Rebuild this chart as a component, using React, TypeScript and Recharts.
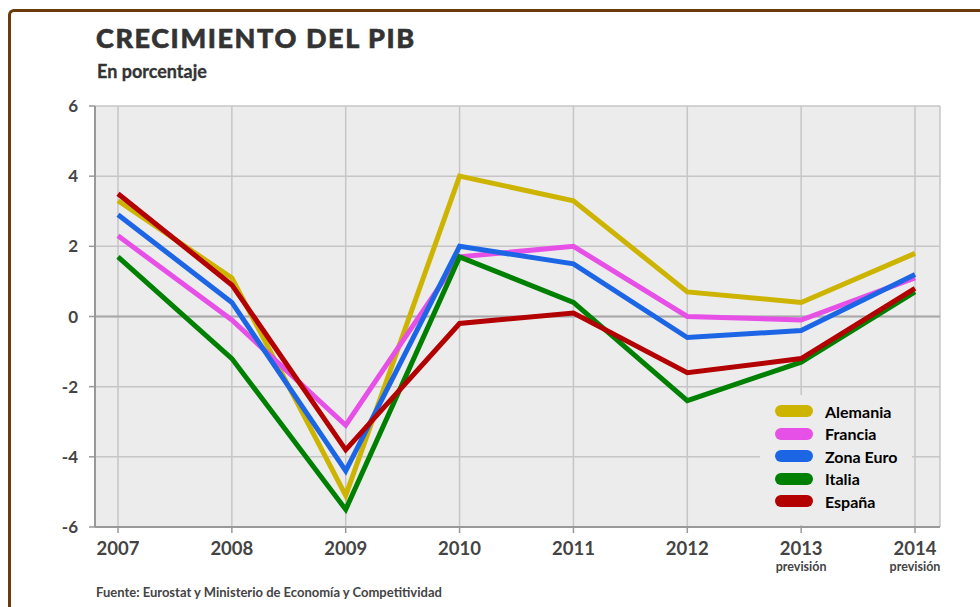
import React from 'react';
import { LineChart, Line, XAxis, YAxis, CartesianGrid, Legend, ReferenceLine } from 'recharts';

const years = ['2007', '2008', '2009', '2010', '2011', '2012', '2013', '2014'];
const alemania = [3.3, 1.1, -5.1, 4.0, 3.3, 0.7, 0.4, 1.8];
const francia = [2.3, -0.1, -3.1, 1.7, 2.0, 0.0, -0.1, 1.1];
const zonaEuro = [2.9, 0.4, -4.4, 2.0, 1.5, -0.6, -0.4, 1.2];
const italia = [1.7, -1.2, -5.5, 1.7, 0.4, -2.4, -1.3, 0.7];
const espana = [3.5, 0.9, -3.8, -0.2, 0.1, -1.6, -1.2, 0.8];
const yTicks = [-6, -4, -2, 0, 2, 4, 6];
const forecastYears = ['2013', '2014'];

const series = [
  { key: 'alemania', name: 'Alemania', values: alemania, color: '#cdb400' },
  { key: 'francia', name: 'Francia', values: francia, color: '#e650e6' },
  { key: 'zonaEuro', name: 'Zona Euro', values: zonaEuro, color: '#1c66e6' },
  { key: 'italia', name: 'Italia', values: italia, color: '#008000' },
  { key: 'espana', name: 'España', values: espana, color: '#b30000' },
];
const seriesOrder = series.map((s) => s.name);

const data = years.map((year, i) => {
  const row: Record<string, string | number> = { year };
  series.forEach((s) => {
    row[s.key] = s.values[i];
  });
  return row;
});

const FONT = 'Lato, "Open Sans", sans-serif';

const XTick = (props: any) => {
  const { x, y, payload } = props;
  const forecast = forecastYears.includes(String(payload.value));
  return (
    <g>
      <text x={x} y={y} dy={20} textAnchor="middle" fontFamily={FONT} fontWeight={700} fontSize={18.5} fill="#444">
        {payload.value}
      </text>
      {forecast && (
        <text x={x} y={y} dy={36} textAnchor="middle" fontFamily={FONT} fontWeight={700} fontSize={12.5} fill="#444">
          previsión
        </text>
      )}
    </g>
  );
};

const LegendContent = (props: any) => {
  const items = [...(props.payload || [])].sort(
    (a: any, b: any) => seriesOrder.indexOf(a.value) - seriesOrder.indexOf(b.value)
  );
  return (
    <div style={{ background: '#ececec', width: 152, height: 130, paddingTop: 5, boxSizing: 'border-box', fontFamily: FONT }}>
      {items.map((p: any) => (
        <div key={p.value} style={{ display: 'flex', alignItems: 'center', height: 22.5 }}>
          <div style={{ width: 38, height: 12, borderRadius: 6, background: p.color, marginLeft: 15, marginRight: 12 }} />
          <span style={{ fontSize: 16, fontWeight: 700, color: '#000' }}>{p.value}</span>
        </div>
      ))}
    </div>
  );
};

export default function App() {
  return (
    <div style={{ position: 'absolute', left: 0, top: 0, width: 980, height: 607, background: '#fff', overflow: 'hidden' }}>
      <div
        style={{
          position: 'absolute',
          left: 8,
          top: 9,
          width: 1000,
          height: 700,
          borderLeft: '3px solid #6b3a0a',
          borderTop: '3px solid #6b3a0a',
          borderTopLeftRadius: 6,
        }}
      />
      <div style={{ position: 'absolute', left: 96, top: 21, fontFamily: FONT, fontWeight: 900, fontSize: 27, letterSpacing: 1.6, color: '#333', lineHeight: '34px', whiteSpace: 'nowrap', WebkitTextStroke: '0.6px #333' }}>
        CRECIMIENTO DEL PIB
      </div>
      <div style={{ position: 'absolute', left: 97, top: 59, fontFamily: FONT, fontWeight: 700, fontSize: 18, color: '#333', lineHeight: '24px', whiteSpace: 'nowrap', WebkitTextStroke: '0.3px #333' }}>
        En porcentaje
      </div>
      <div style={{ position: 'absolute', left: 96, top: 583, fontFamily: FONT, fontWeight: 700, fontSize: 13, color: '#444', lineHeight: '18px', whiteSpace: 'nowrap' }}>
        Fuente: Eurostat y Ministerio de Economía y Competitividad
      </div>
      <div style={{ position: 'absolute', left: 0, top: 0 }}>
        <LineChart width={980} height={607} data={data} margin={{ top: 106, right: 40, left: 0, bottom: 0 }}>
          <CartesianGrid fill="#ececec" stroke="#c6c6c6" strokeWidth={1.5} />
          <XAxis
            dataKey="year"
            height={80}
            padding={{ left: 23, right: 25 }}
            tick={<XTick />}
            tickSize={6}
            tickLine={{ stroke: '#999', strokeWidth: 1.5 }}
            axisLine={{ stroke: '#999', strokeWidth: 2 }}
            interval={0}
          />
          <YAxis
            width={95}
            domain={[-6, 6]}
            ticks={yTicks}
            tickSize={6}
            tickMargin={11}
            tickLine={{ stroke: '#999', strokeWidth: 1.5 }}
            axisLine={{ stroke: '#999', strokeWidth: 2 }}
            tick={{ fontFamily: FONT, fontWeight: 700, fontSize: 17, fill: '#444' }}
            allowDecimals={false}
          />
          <YAxis
            yAxisId="frame"
            orientation="right"
            width={0}
            domain={[-6, 6]}
            tick={false}
            tickLine={false}
            axisLine={{ stroke: '#c6c6c6', strokeWidth: 2 }}
          />
          <ReferenceLine y={0} stroke="#a8a8a8" strokeWidth={2} />
          {series.map((s) => (
            <Line
              key={s.key}
              type="linear"
              dataKey={s.key}
              name={s.name}
              stroke={s.color}
              strokeWidth={5}
              dot={false}
              activeDot={false}
              isAnimationActive={false}
            />
          ))}
          <Legend
            content={<LegendContent />}
            layout="vertical"
            align="center"
            verticalAlign="middle"
            wrapperStyle={{ position: 'absolute', left: 760, top: 395, width: 152, height: 130 }}
          />
        </LineChart>
      </div>
    </div>
  );
}
